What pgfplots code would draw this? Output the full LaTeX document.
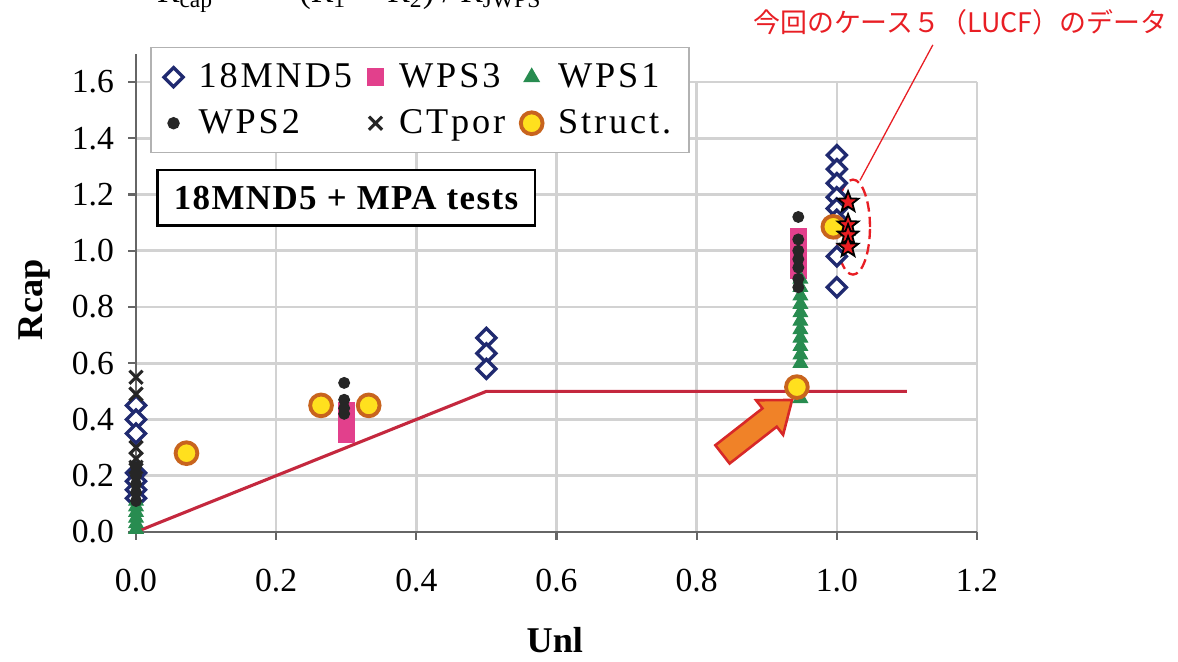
\documentclass[border=0pt]{standalone}
\usepackage{fontspec}
\setmainfont{Liberation Serif}
\newfontfamily\legfont[LetterSpace=8]{Liberation Serif}
\newfontfamily\boxfont[LetterSpace=4]{Liberation Serif}
\newfontfamily\cjk{Noto Sans CJK JP}
\usepackage{pgfplots}
\pgfplotsset{compat=1.18}
\usetikzlibrary{shapes.arrows,shapes.geometric}

\definecolor{mndblue}{RGB}{32,42,112}
\definecolor{wpspink}{RGB}{226,64,140}
\definecolor{wpsgreen}{RGB}{40,140,80}
\definecolor{structfill}{RGB}{255,224,30}
\definecolor{structedge}{RGB}{200,100,30}
\definecolor{limitred}{RGB}{196,40,62}
\definecolor{arroworange}{RGB}{240,130,40}
\definecolor{arrowred}{RGB}{215,40,40}
\definecolor{noteRed}{RGB}{232,30,36}
\definecolor{starred}{RGB}{235,30,35}

% filled five-point star
\pgfdeclareplotmark{fivestar}{%
  \pgfpathmoveto{\pgfpointpolar{90}{\pgfplotmarksize}}%
  \pgfpathlineto{\pgfpointpolar{126}{0.42\pgfplotmarksize}}%
  \pgfpathlineto{\pgfpointpolar{162}{\pgfplotmarksize}}%
  \pgfpathlineto{\pgfpointpolar{198}{0.42\pgfplotmarksize}}%
  \pgfpathlineto{\pgfpointpolar{234}{\pgfplotmarksize}}%
  \pgfpathlineto{\pgfpointpolar{270}{0.42\pgfplotmarksize}}%
  \pgfpathlineto{\pgfpointpolar{306}{\pgfplotmarksize}}%
  \pgfpathlineto{\pgfpointpolar{342}{0.42\pgfplotmarksize}}%
  \pgfpathlineto{\pgfpointpolar{18}{\pgfplotmarksize}}%
  \pgfpathlineto{\pgfpointpolar{54}{0.42\pgfplotmarksize}}%
  \pgfpathclose
  \pgfusepathqfillstroke}

\begin{document}
\begin{tikzpicture}
\begin{axis}[
    scale only axis,
    width=11.42cm, height=6.11cm,
    xmin=0, xmax=1.2, ymin=0, ymax=1.6,
    clip=false,
    axis lines*=left,
    axis line style={gray!80!black, line width=0.9pt},
    xtick={0,0.2,0.4,0.6,0.8,1.0,1.2},
    ytick={0,0.2,0.4,0.6,0.8,1.0,1.2,1.4,1.6},
    tick align=outside,
    major tick length=3pt,
    tick style={gray!80!black, line width=0.8pt},
    grid=major,
    major grid style={gray!35, line width=1pt},
    /pgf/number format/assume math mode=true,
    /pgf/number format/.cd, fixed, fixed zerofill, precision=1, /pgfplots/.cd,
    ticklabel style={font=\fontsize{13}{15}\selectfont},
    xticklabel style={yshift=-8pt},
    yticklabel style={xshift=-2pt},
    xlabel={\textbf{Unl}},
    ylabel={\textbf{Rcap}},
    xlabel style={at={(axis description cs:0.498,-0.24)}, anchor=center, font=\fontsize{14}{16}\selectfont},
    ylabel style={at={(axis description cs:-0.121,0.516)}, anchor=center, font=\fontsize{14}{16}\selectfont},
    legend columns=3,
    legend cell align=left,
    legend style={at={(axis description cs:0.017,1.078)}, anchor=north west,
        draw=gray!60, fill=white, line width=0.6pt,
        font=\legfont\fontsize{14}{16}\selectfont,
        column sep=4pt, row sep=3pt, inner xsep=5pt, inner ysep=4pt},
]
% limit line
\addplot[limitred, line width=1.2pt, forget plot] coordinates {(0,0) (0.5,0.5) (1.1,0.5)};

% 18MND5
\addplot[only marks, mark=square*, mark size=2.6pt,
    mark options={rotate=45, draw=mndblue, fill=white, line width=1.3pt}] coordinates {
    (0,0.45) (0,0.40) (0,0.35) (0,0.21) (0,0.18) (0,0.15) (0,0.12)
    (0.5,0.69) (0.5,0.635) (0.5,0.58)
    (1.0,1.34) (1.0,1.29) (1.0,1.24) (1.0,1.19) (1.0,1.15) (1.0,1.11)
    (1.0,0.98) (1.0,0.87)};
\addlegendentry{18MND5}

% WPS3
\addplot[only marks, mark=square*, mark size=3.1pt,
    mark options={draw=wpspink, fill=wpspink}] coordinates {
    (0.3,0.43) (0.3,0.40) (0.3,0.37) (0.3,0.345)
    (0.945,1.05) (0.945,1.02) (0.945,0.99) (0.945,0.96) (0.945,0.93)};
\addlegendentry{WPS3}

% WPS1
\addplot[only marks, mark=triangle*, mark size=3.2pt,
    mark options={draw=wpsgreen, fill=wpsgreen}] coordinates {
    (0,0.01) (0,0.03) (0,0.05) (0,0.07) (0,0.09) (0,0.11)
    (0.948,0.90) (0.948,0.87) (0.948,0.84) (0.948,0.81) (0.948,0.78)
    (0.948,0.75) (0.948,0.72) (0.948,0.69) (0.948,0.66) (0.948,0.63)
    (0.948,0.60) (0.948,0.475)};
\addlegendentry{WPS1}

% WPS2
\addplot[only marks, mark=*, mark size=2.1pt,
    mark options={draw=black!85, fill=black!85}] coordinates {
    (0,0.23) (0,0.20) (0,0.17) (0,0.14) (0,0.11)
    (0.297,0.53) (0.297,0.47) (0.297,0.44) (0.297,0.42)
    (0.945,1.12) (0.945,1.04) (0.945,1.00) (0.945,0.97) (0.945,0.94)
    (0.945,0.90) (0.945,0.87)};
\addlegendentry{WPS2}

% CTpor
\addplot[only marks, mark=x, mark size=3.6pt,
    mark options={draw=black!85, line width=1.2pt}] coordinates {
    (0,0.55) (0,0.49) (0,0.30) (0,0.26) (0,0.23)};
\addlegendentry{CTpor}

% Struct.
\addplot[only marks, mark=*, mark size=4.2pt,
    mark options={draw=structedge, fill=structfill, line width=1.5pt}] coordinates {
    (0.072,0.28) (0.264,0.45) (0.332,0.45) (0.943,0.515) (0.995,1.085)};
\addlegendentry{Struct.}

% case 5 (LUCF)
\addplot[only marks, mark=fivestar, mark size=4.2pt, forget plot,
    mark options={draw=black, fill=starred, line width=0.7pt}] coordinates {
    (1.016,1.173) (1.016,1.092) (1.016,1.056) (1.016,1.013)};

% y axis runs a bit above 1.6
\draw[gray!80!black, line width=0.9pt] (axis cs:0,1.6) -- (axis cs:0,1.70);

\node[draw=black, line width=1.1pt, fill=white, minimum width=5.13cm, minimum height=0.75cm,
    font=\boxfont\bfseries\fontsize{13.5}{15}\selectfont] at (axis cs:0.2997,1.189) {18MND5 + MPA tests};

\draw[noteRed, dashed, line width=0.9pt, dash pattern=on 4pt off 2pt]
    (axis cs:1.023,1.084) ellipse [x radius=0.231cm, y radius=0.645cm];
\draw[noteRed, line width=0.5pt] (axis cs:1.137,1.732) -- (axis cs:1.033,1.25);
\node[text=noteRed, anchor=center, font=\cjk\fontsize{10.4}{12}\selectfont]
    at (axis cs:1.176,1.813) {今回のケース５（LUCF）のデータ};

\node[single arrow, draw=arrowred, fill=arroworange, line width=1pt,
    minimum height=1.2cm, inner sep=0.14cm, single arrow head extend=0.14cm,
    single arrow tip angle=75, rotate=38] at (axis cs:0.878,0.356) {};

% cut-off formula at the top edge
\node[anchor=base west, font=\fontsize{13}{15}\selectfont] at (axis cs:0.017,1.881)
    {R\textsubscript{cap}\quad =\quad (R\textsubscript{1} $-$ R\textsubscript{2}) / R\textsubscript{JWPS}};

\coordinate (pageSW) at (axis cs:-0.1941,-0.4622);
\coordinate (pageNE) at (axis cs:1.4868,1.8916);
\end{axis}
\pgfresetboundingbox
\useasboundingbox (pageSW) rectangle (pageNE);
\end{tikzpicture}
\end{document}
